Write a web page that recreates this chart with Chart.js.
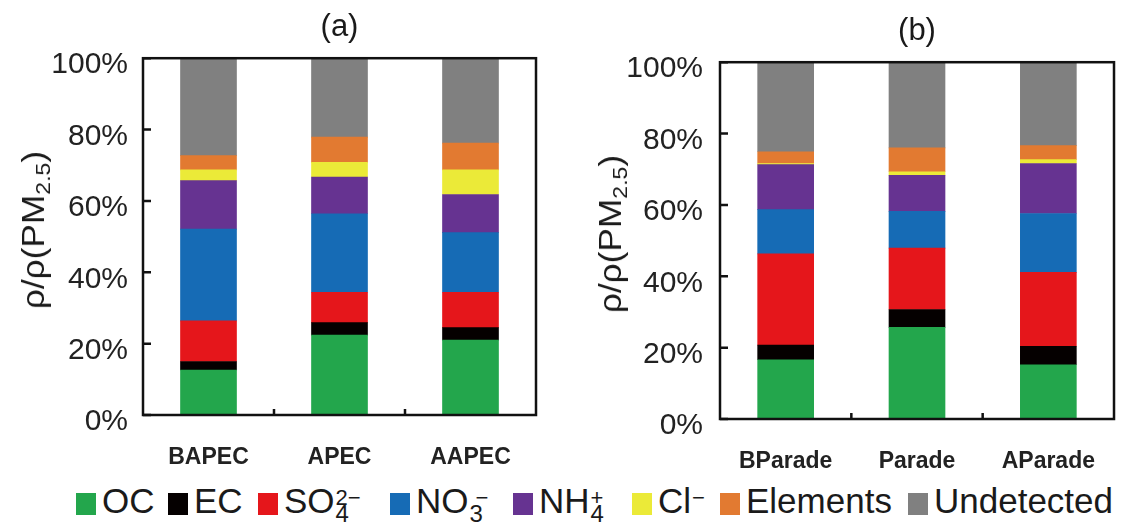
<!DOCTYPE html>
<html>
<head>
<meta charset="utf-8">
<script src="https://cdn.jsdelivr.net/npm/chart.js@4/dist/chart.umd.min.js"></script>
<style>
  html, body { margin: 0; padding: 0; background: #fff; }
  body { width: 1126px; height: 526px; position: relative; overflow: hidden; font-family: "Liberation Sans", Arial, sans-serif; }
  #wrapA { position: absolute; left: 0; top: 0; width: 548px; height: 475px; }
  #wrapB { position: absolute; left: 580px; top: 4px; width: 546px; height: 475px; }
  .ytitle { position: absolute; font-size: 32px; color: #1a1a1a; white-space: nowrap; line-height: 1;
            transform: translate(-50%, -50%) rotate(-90deg) scaleX(1.1); }
  .ytitle sub { font-size: 21px; vertical-align: -6px; line-height: 0; }
  .item { position: absolute; top: 483px; display: flex; align-items: flex-start;
          font-size: 35px; line-height: 1; color: #1a1a1a; white-space: nowrap; }
  .box { width: 20px; height: 22px; margin-top: 10px; margin-right: 6px; }
  .ss { display: inline-grid; vertical-align: top; margin-left: 1px; }
  .ss > span { grid-area: 1 / 1; line-height: 1; }
  .ss .up { font-size: 22px; margin-top: 4px; }
  .ss .dn { font-size: 24px; margin-top: 19px; }
</style>
</head>
<body>
<div id="wrapA"><canvas id="chartA"></canvas></div>
<div id="wrapB"><canvas id="chartB"></canvas></div>
<div class="ytitle" style="left:33px; top:230px;">ρ/ρ(PM<sub>2.5</sub>)</div>
<div class="ytitle" style="left:610px; top:234px;">ρ/ρ(PM<sub>2.5</sub>)</div>
<div id="legend"></div>
<script>
// categories
const categoriesA = ['BAPEC', 'APEC', 'AAPEC'];
const categoriesB = ['BParade', 'Parade', 'AParade'];

// component names and colours
const seriesNames = ['OC', 'EC', 'SO4', 'NO3', 'NH4', 'Cl', 'Elements', 'Undetected'];
const seriesLabels = [
    'OC',
    'EC',
    'SO<span class="ss"><span class="up">2−</span><span class="dn">4</span></span>',
    'NO<span class="ss"><span class="up">&nbsp;−</span><span class="dn">3</span></span>',
    'NH<span class="ss"><span class="up">+</span><span class="dn">4</span></span>',
    'Cl<span class="ss"><span class="up">−</span></span>',
    'Elements',
    'Undetected'
];
const seriesColors = ['#23a64c', '#050000', '#e5161b', '#166bb5', '#663391', '#ebea38', '#e27a31', '#808080'];

// panel (a) shares, %
const ocA   = [12.6, 22.4, 21.0];
const ecA   = [2.4, 3.5, 3.5];
const so4A  = [11.4, 8.5, 9.9];
const no3A  = [25.7, 22.0, 16.7];
const nh4A  = [13.6, 10.3, 10.7];
const clA   = [3.0, 4.1, 6.9];
const elemA = [4.0, 7.1, 7.5];
const undA  = [27.3, 22.1, 23.8];

// panel (b) shares, %
const ocB   = [16.6, 25.7, 15.2];
const ecB   = [4.1, 5.0, 5.2];
const so4B  = [25.6, 17.2, 20.7];
const no3B  = [12.4, 10.3, 16.5];
const nh4B  = [12.6, 10.1, 14.0];
const clB   = [0.3, 1.0, 1.1];
const elemB = [3.3, 6.7, 3.9];
const undB  = [25.1, 24.0, 23.4];

const yTicks = [0, 20, 40, 60, 80, 100];

const FONT = '"Liberation Sans", Arial, sans-serif';

// frame around plot area with inward ticks
const framePlugin = {
    id: 'frame',
    afterDatasetsDraw(chart) {
        const { ctx, chartArea: a, scales } = chart;
        ctx.save();
        ctx.strokeStyle = '#111';
        ctx.lineWidth = 2.5;
        ctx.strokeRect(a.left, a.top, a.right - a.left, a.bottom - a.top);
        ctx.beginPath();
        yTicks.forEach(v => {
            const y = scales.y.getPixelForValue(v);
            ctx.moveTo(a.left, y);
            ctx.lineTo(a.left + 8, y);
        });
        const n = chart.data.labels.length;
        for (let i = 0; i < n - 1; i++) {
            const x = (scales.x.getPixelForTick(i) + scales.x.getPixelForTick(i + 1)) / 2;
            ctx.moveTo(x, a.bottom);
            ctx.lineTo(x, a.bottom - 6);
        }
        ctx.stroke();
        ctx.restore();
    }
};

function makeChart(id, title, labels, values, yWidth, tickPad, padRight) {
    return new Chart(document.getElementById(id), {
        type: 'bar',
        data: {
            labels: labels,
            datasets: values.map((d, i) => ({
                label: seriesNames[i],
                data: d,
                backgroundColor: seriesColors[i],
                borderWidth: 0,
                barThickness: 56
            }))
        },
        options: {
            responsive: true,
            maintainAspectRatio: false,
            animation: false,
            layout: { padding: { left: 0, right: padRight, top: 0, bottom: 0 } },
            plugins: {
                legend: { display: false },
                tooltip: { enabled: false },
                title: {
                    display: true,
                    fullSize: false,
                    text: title,
                    color: '#1a1a1a',
                    font: { size: 31, family: FONT, weight: 'normal', lineHeight: 1.2 },
                    padding: { top: 9, bottom: 12 }
                }
            },
            scales: {
                x: {
                    stacked: true,
                    grid: { display: false, drawTicks: false },
                    border: { display: false },
                    ticks: {
                        color: '#222',
                        padding: 29,
                        font: { size: 23, family: FONT, weight: 'bold' }
                    },
                    afterFit: s => { s.height = 60; }
                },
                y: {
                    stacked: true,
                    min: 0,
                    max: 100,
                    grid: { display: false, drawTicks: false },
                    border: { display: false },
                    ticks: {
                        stepSize: 20,
                        padding: tickPad,
                        labelOffset: 7,
                        color: '#222',
                        font: { size: 30, family: FONT },
                        callback: v => v + '%'
                    },
                    afterFit: s => { s.width = yWidth; }
                }
            }
        },
        plugins: [framePlugin]
    });
}

makeChart('chartA', '(a)', categoriesA, [ocA, ecA, so4A, no3A, nh4A, clA, elemA, undA], 143, 15, 12);
makeChart('chartB', '(b)', categoriesB, [ocB, ecB, so4B, no3B, nh4B, clB, elemB, undB], 140, 17, 9);

// shared legend, one entry per series
const legendLeft = [76, 168, 258, 390, 513, 632, 720, 908];
seriesLabels.forEach((t, i) => {
    const item = document.createElement('div');
    item.className = 'item';
    item.style.left = legendLeft[i] + 'px';
    item.innerHTML = '<span class="box" style="background:' + seriesColors[i] + '"></span><span>' + t + '</span>';
    document.body.appendChild(item);
});
</script>
</body>
</html>
